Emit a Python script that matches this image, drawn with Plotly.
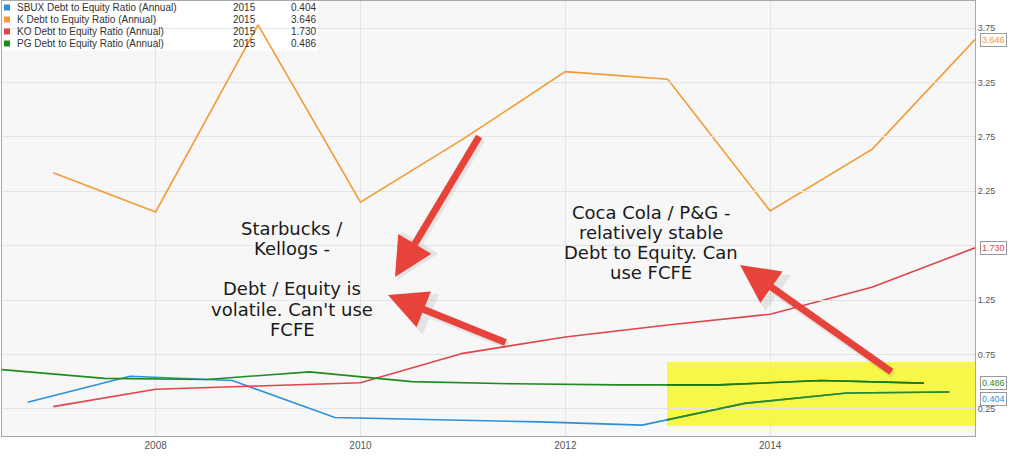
import plotly.graph_objects as go

# ---------------- data ----------------
series_names = ["SBUX Debt to Equity Ratio (Annual)", "K Debt to Equity Ratio (Annual)",
                "KO Debt to Equity Ratio (Annual)", "PG Debt to Equity Ratio (Annual)"]
legend_year = "2015"
colors = ["#2b8fdb", "#f39a32", "#df454b", "#1f8c1f"]

sbux_x = [2006.75, 2007.75, 2008.75, 2009.75, 2010.75, 2011.75, 2012.75, 2013.75, 2014.75, 2015.75]
sbux_y = [0.31, 0.55, 0.51, 0.17, 0.15, 0.13, 0.10, 0.30, 0.395, 0.404]

k_x = [2007, 2008, 2009, 2010, 2011, 2012, 2013, 2014, 2015, 2016]
k_y = [2.42, 2.06, 3.78, 2.15, 2.73, 3.35, 3.28, 2.07, 2.64, 3.646]

ko_x = [2007, 2008, 2009, 2010, 2011, 2012, 2013, 2014, 2015, 2016]
ko_y = [0.27, 0.43, 0.46, 0.49, 0.76, 0.91, 1.02, 1.12, 1.37, 1.730]

pg_x = [2006.5, 2007.5, 2008.5, 2009.5, 2010.5, 2011.5, 2012.5, 2013.5, 2014.5, 2015.5]
pg_y = [0.61, 0.53, 0.52, 0.59, 0.50, 0.48, 0.47, 0.47, 0.51, 0.486]

x_ticks = [2008, 2010, 2012, 2014]
y_ticks = [0.25, 0.75, 1.25, 1.75, 2.25, 2.75, 3.25, 3.75]
y_hidden_labels = [1.75]  # covered by the 1.730 end label in the original
x_range = [2006.5, 2016.0]
y_range = [0, 4]

left_text = ["Starbucks /", "Kellogs -", "", "Debt / Equity is", "volatile. Can't use", "FCFE"]
right_text = ["Coca Cola / P&G -", "relatively stable", "Debt to Equity. Can", "use FCFE"]

# ---------------- layout helpers (pixel -> paper) ----------------
W, H = 1024, 456
ML, MR, MT, MB = 2, 49, 1, 20
PW, PH = W - ML - MR, H - MT - MB


def px(x):
    return (x - ML) / PW


def py(y):
    return (H - MB - y) / PH


def pxd(x):  # pixel -> x data position (for layout shapes only)
    return x_range[0] + px(x) * (x_range[1] - x_range[0])


def pyd(y):
    return y_range[0] + py(y) * (y_range[1] - y_range[0])


xs = [sbux_x, k_x, ko_x, pg_x]
ys = [sbux_y, k_y, ko_y, pg_y]

fig = go.Figure()
for i in range(4):
    fig.add_trace(go.Scatter(x=xs[i], y=ys[i], mode="lines",
                             line=dict(color=colors[i], width=1.6),
                             hoverinfo="skip", showlegend=False))

# highlighted portion: lines seen through the yellow marker look green
hl_x0 = px(667)
x2_start = pxd(667)
fig.add_trace(go.Scatter(x=sbux_x, y=sbux_y, mode="lines", xaxis="x2", yaxis="y",
                         line=dict(color="#2a8a1e", width=1.6),
                         hoverinfo="skip", showlegend=False))
fig.add_trace(go.Scatter(x=pg_x, y=pg_y, mode="lines", xaxis="x2", yaxis="y",
                         line=dict(color="#1a7a14", width=1.6),
                         hoverinfo="skip", showlegend=False))

shapes = []
# plot background (drawn as shape so the overlay subplot stays transparent)
shapes.append(dict(type="rect", xref="paper", yref="paper", x0=0, x1=1, y0=0, y1=1,
                   fillcolor="#f7f7f7", line=dict(width=0), layer="below"))
# legend backdrop
shapes.append(dict(type="rect", xref="paper", yref="paper", x0=px(2), x1=px(318),
                   y0=py(51), y1=py(1), fillcolor="white", line=dict(width=0), layer="below"))
# yellow highlight
shapes.append(dict(type="rect", xref="x", yref="y", x0=pxd(667), x1=x_range[1],
                   y0=pyd(426), y1=pyd(362), fillcolor="rgba(246,246,60,0.93)",
                   line=dict(width=0), layer="between"))

annotations = []
# legend rows
for i in range(4):
    yc = 7.5 + 12 * i
    shapes.append(dict(type="rect", xref="paper", yref="paper", x0=px(4), x1=px(10),
                       y0=py(yc + 3), y1=py(yc - 3), fillcolor=colors[i],
                       line=dict(width=0), layer="above"))
    annotations.append(dict(xref="paper", yref="paper", x=px(15), y=py(yc), text=series_names[i],
                            showarrow=False, xanchor="left", yanchor="middle",
                            font=dict(family="Arial", size=10, color="#333")))
    annotations.append(dict(xref="paper", yref="paper", x=px(231), y=py(yc), text=legend_year,
                            showarrow=False, xanchor="left", yanchor="middle",
                            font=dict(family="Arial", size=10, color="#333")))
    annotations.append(dict(xref="paper", yref="paper", x=px(289), y=py(yc),
                            text=f"{ys[i][-1]:.3f}",
                            showarrow=False, xanchor="left", yanchor="middle",
                            font=dict(family="Arial", size=10, color="#333")))

# end value labels
label_shift = [-7, 0, 0, 0]
for i in range(4):
    annotations.append(dict(xref="paper", yref="y", x=1, y=ys[i][-1], text=f"{ys[i][-1]:.3f}",
                            showarrow=False, xanchor="left", yanchor="middle", xshift=5,
                            yshift=label_shift[i], bgcolor="white", bordercolor="#9a9a9a",
                            borderwidth=1, borderpad=1,
                            font=dict(family="Arial", size=9, color=colors[i])))

# text blocks
for j, t in enumerate(left_text):
    if t:
        annotations.append(dict(xref="paper", yref="paper", x=px(292), y=py(228 + 20.3 * j),
                                text=t, showarrow=False, xanchor="center", yanchor="middle",
                                font=dict(family="DejaVu Sans", size=18, color="#1a1a1a")))
for j, t in enumerate(right_text):
    annotations.append(dict(xref="paper", yref="paper", x=px(651), y=py(212 + 20.3 * j),
                            text=t, showarrow=False, xanchor="center", yanchor="middle",
                            font=dict(family="DejaVu Sans", size=18, color="#1a1a1a")))

# red arrows (tip, tail) in pixels
arrows = [((395, 277), (480, 135)), ((388, 295), (507, 343)), ((740, 265), (893, 373))]
for (tip, tail) in arrows:
    annotations.append(dict(xref="paper", yref="paper", x=px(tip[0] + 2), y=py(tip[1] + 3),
                            ax=tail[0] - tip[0], ay=tail[1] - tip[1], text="", showarrow=True,
                            arrowhead=2, arrowsize=1.1, arrowwidth=8,
                            arrowcolor="rgba(0,0,0,0.07)"))
for (tip, tail) in arrows:
    annotations.append(dict(xref="paper", yref="paper", x=px(tip[0]), y=py(tip[1]),
                            ax=tail[0] - tip[0], ay=tail[1] - tip[1], text="", showarrow=True,
                            arrowhead=2, arrowsize=1.1, arrowwidth=7,
                            arrowcolor="#e8433b"))

fig.update_layout(
    width=W, height=H,
    margin=dict(l=ML, r=MR, t=MT, b=MB),
    paper_bgcolor="white", plot_bgcolor="rgba(0,0,0,0)",
    showlegend=False,
    shapes=shapes, annotations=annotations,
    xaxis=dict(range=x_range, tickvals=x_ticks, ticktext=[str(v) for v in x_ticks],
               showgrid=True, gridcolor="#e4e4e4", gridwidth=1, zeroline=False,
               showline=True, mirror=True, linecolor="#a8a8a8", linewidth=1,
               ticks="", tickfont=dict(family="Arial", size=10, color="#555")),
    xaxis2=dict(domain=[hl_x0, 1], range=[x2_start, x_range[1]], anchor="y",
                visible=False, showgrid=False, zeroline=False),
    yaxis=dict(range=y_range, side="right", tickvals=y_ticks,
               ticktext=["" if v in y_hidden_labels else f"{v:.2f}" for v in y_ticks],
               showgrid=True, gridcolor="#e4e4e4", gridwidth=1, zeroline=False,
               showline=True, mirror=True, linecolor="#a8a8a8", linewidth=1,
               ticks="", tickfont=dict(family="Arial", size=9, color="#555")),
)

fig.write_html("out.html")
